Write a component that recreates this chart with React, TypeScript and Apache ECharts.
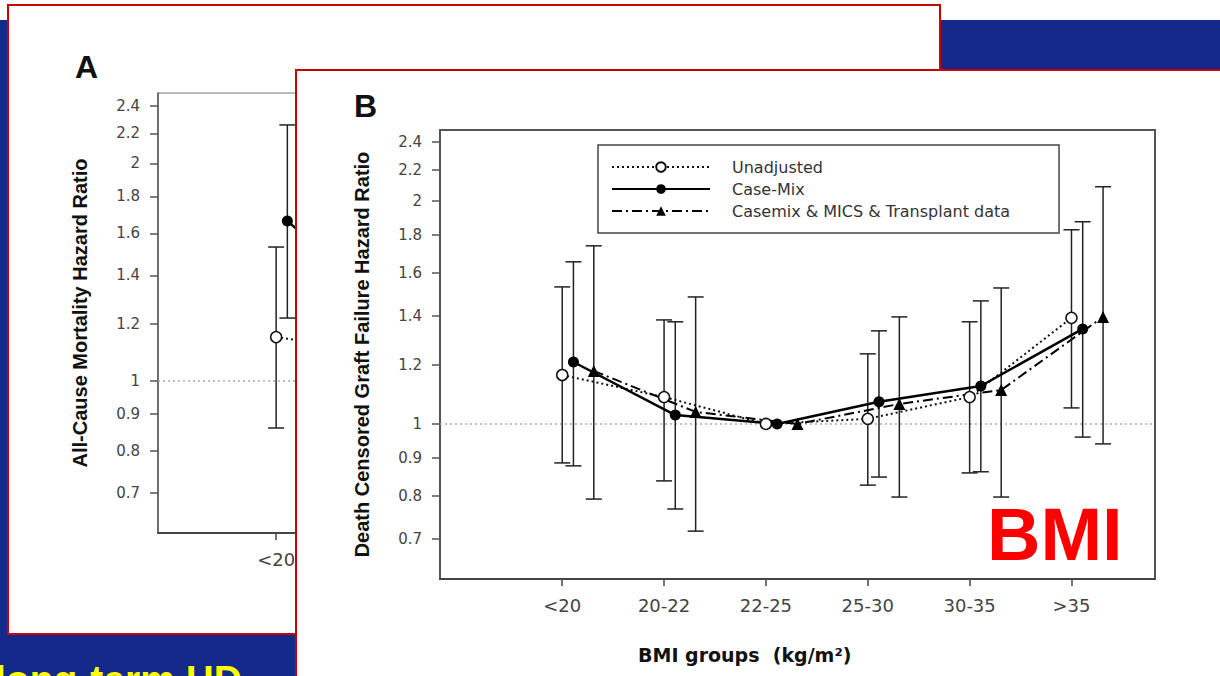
import React, { useEffect, useRef } from 'react';
import * as echarts from 'echarts';

// ---------- data ----------
const categories = ['<20', '20-22', '22-25', '25-30', '30-35', '>35'];
const yTicks = [0.7, 0.8, 0.9, 1, 1.2, 1.4, 1.6, 1.8, 2, 2.2, 2.4];
const seriesNames = ['Unadjusted', 'Case-Mix', 'Casemix & MICS & Transplant data'];

// Panel B: Death censored graft failure hazard ratio (22-25 = reference)
const unadjHR = [1.164, 1.087, 1.0, 1.016, 1.087, 1.39];
const unadjLow = [0.886, 0.838, null, 0.827, 0.859, 1.051];
const unadjHigh = [1.53, 1.381, null, 1.243, 1.373, 1.827];
const caseMixHR = [1.212, 1.028, 1.0, 1.071, 1.125, 1.343];
const caseMixLow = [0.878, 0.768, null, 0.848, 0.862, 0.96];
const caseMixHigh = [1.654, 1.373, null, 1.335, 1.465, 1.873];
const micsHR = [1.179, 1.038, 1.0, 1.064, 1.111, 1.394];
const micsLow = [0.792, 0.717, null, 0.797, 0.797, 0.94];
const micsHigh = [1.738, 1.483, null, 1.394, 1.525, 2.088];

// Panel A: all-cause mortality hazard ratio (only the first group is visible)
const aUnadjHR = [1.15, 1.097];
const aUnadjLow = [0.861];
const aUnadjHigh = [1.532];
const aCaseMixHR = [1.665, 1.25];
const aCaseMixLow = [1.222];
const aCaseMixHigh = [2.26];

// ---------- helpers ----------
const ln = Math.log;
const offsets = [0, 0.11, 0.31];
const tickVals = yTicks.map(ln);
const fmtY = (v: number) => String(Math.round(Math.exp(v) * 10) / 10);
const fmtX = (v: number) => categories[Math.round(v)] ?? '';

const pts = (hr: number[], off: number) => hr.map((v, i) => [i + off, ln(v)]);
const bars = (lo: (number | null)[], hi: (number | null)[], off: number) =>
  lo.map((l, i) => (l == null || hi[i] == null ? null : [i + off, ln(l), ln(hi[i] as number)])).filter(Boolean);

const errorBarRender = (params: any, api: any) => {
  const x = api.value(0);
  const pLo = api.coord([x, api.value(1)]);
  const pHi = api.coord([x, api.value(2)]);
  const half = 8;
  const style = { stroke: '#222', lineWidth: 1.5, fill: null };
  return {
    type: 'group',
    children: [
      { type: 'line', shape: { x1: pLo[0], y1: pLo[1], x2: pHi[0], y2: pHi[1] }, style },
      { type: 'line', shape: { x1: pHi[0] - half, y1: pHi[1], x2: pHi[0] + half, y2: pHi[1] }, style },
      { type: 'line', shape: { x1: pLo[0] - half, y1: pLo[1], x2: pLo[0] + half, y2: pLo[1] }, style },
    ],
  };
};

const tickFont = 'DejaVu Sans';

const makeYAxis = (gridIndex: number, name: string, z: number, min: number, max: number) => ({
  type: 'value',
  gridIndex,
  min,
  max,
  z,
  name,
  nameLocation: 'middle',
  nameGap: 68,
  nameTextStyle: { fontFamily: 'Liberation Sans', fontWeight: 'bold', fontSize: 20, color: '#111' },
  axisLine: { show: true, onZero: false, lineStyle: { color: '#555', width: 1.5 } },
  axisTick: { show: true, length: 8, customValues: tickVals, lineStyle: { color: '#555', width: 1.5 } },
  axisLabel: { customValues: tickVals, formatter: fmtY, margin: 18, fontFamily: tickFont, fontSize: 15, color: '#444' },
  splitLine: { show: false },
});

const makeXAxis = (gridIndex: number, z: number, min: number, max: number) => ({
  type: 'value',
  gridIndex,
  min,
  max,
  z,
  axisLine: { show: true, onZero: false, lineStyle: { color: '#444', width: 2 } },
  axisTick: { show: true, length: 7, customValues: [0, 1, 2, 3, 4, 5], lineStyle: { color: '#444', width: 1.5 } },
  axisLabel: { customValues: [0, 1, 2, 3, 4, 5], formatter: fmtX, margin: 17, fontFamily: tickFont, fontSize: 18, color: '#444' },
  splitLine: { show: false },
});

const refLine = (z: number) => ({
  silent: true,
  symbol: 'none',
  z,
  label: { show: false },
  lineStyle: { color: '#aaa', type: [2, 3], width: 1.5 },
  data: [{ yAxis: 0 }],
});

const unadjStyle = {
  symbol: 'circle',
  symbolSize: 11,
  itemStyle: { color: '#fff', borderColor: '#111', borderWidth: 1.5 },
  lineStyle: { color: '#111', width: 2, type: [2, 3] },
};
const caseMixStyle = {
  symbol: 'circle',
  symbolSize: 11,
  itemStyle: { color: '#000' },
  lineStyle: { color: '#000', width: 2.5, type: 'solid' },
};
const micsStyle = {
  symbol: 'triangle',
  symbolSize: 12,
  itemStyle: { color: '#000' },
  lineStyle: { color: '#000', width: 2, type: [10, 4, 2, 4] },
};

const option: any = {
  animation: false,
  backgroundColor: '#fff',
  grid: [
    { left: 158, top: 93, width: 715, height: 440, show: true, borderColor: '#777', borderWidth: 1, z: 3 },
    { left: 440, top: 130, width: 715, height: 449, show: true, borderColor: '#555', borderWidth: 2, z: 11 },
  ],
  xAxis: [makeXAxis(0, 3, -1.16, 5.86), makeXAxis(1, 11, -1.2, 5.82)],
  yAxis: [
    makeYAxis(0, 'All-Cause Mortality Hazard Ratio', 3, ln(0.6163), ln(2.502)),
    makeYAxis(1, 'Death Censored Graft Failure Hazard Ratio', 11, ln(0.618), ln(2.49)),
  ],
  legend: {
    data: seriesNames,
    orient: 'vertical',
    left: 598,
    top: 145,
    itemWidth: 98,
    itemHeight: 12,
    itemGap: 6,
    padding: [14, 49, 14, 13],
    borderColor: '#444',
    borderWidth: 1.5,
    backgroundColor: '#fff',
    textStyle: { fontFamily: tickFont, fontSize: 16, color: '#333', padding: [0, 0, 0, 17] },
    z: 13,
  },
  series: [
    // ----- Panel B -----
    { type: 'custom', name: 'Unadjusted CI', xAxisIndex: 1, yAxisIndex: 1, renderItem: errorBarRender, data: bars(unadjLow, unadjHigh, offsets[0]), encode: { x: 0, y: [1, 2] }, z: 12, silent: true },
    { type: 'custom', name: 'Case-Mix CI', xAxisIndex: 1, yAxisIndex: 1, renderItem: errorBarRender, data: bars(caseMixLow, caseMixHigh, offsets[1]), encode: { x: 0, y: [1, 2] }, z: 12, silent: true },
    { type: 'custom', name: 'MICS CI', xAxisIndex: 1, yAxisIndex: 1, renderItem: errorBarRender, data: bars(micsLow, micsHigh, offsets[2]), encode: { x: 0, y: [1, 2] }, z: 12, silent: true },
    { type: 'line', name: seriesNames[0], xAxisIndex: 1, yAxisIndex: 1, data: pts(unadjHR, offsets[0]), ...unadjStyle, markLine: refLine(12), z: 12 },
    { type: 'line', name: seriesNames[1], xAxisIndex: 1, yAxisIndex: 1, data: pts(caseMixHR, offsets[1]), ...caseMixStyle, z: 12 },
    { type: 'line', name: seriesNames[2], xAxisIndex: 1, yAxisIndex: 1, data: pts(micsHR, offsets[2]), ...micsStyle, z: 12 },
    // ----- Panel A (mostly hidden behind panel B) -----
    { type: 'custom', name: 'A Unadjusted CI', xAxisIndex: 0, yAxisIndex: 0, renderItem: errorBarRender, data: bars(aUnadjLow, aUnadjHigh, offsets[0]), encode: { x: 0, y: [1, 2] }, z: 4, silent: true },
    { type: 'custom', name: 'A Case-Mix CI', xAxisIndex: 0, yAxisIndex: 0, renderItem: errorBarRender, data: bars(aCaseMixLow, aCaseMixHigh, offsets[1]), encode: { x: 0, y: [1, 2] }, z: 4, silent: true },
    { type: 'line', name: 'A Unadjusted', xAxisIndex: 0, yAxisIndex: 0, data: pts(aUnadjHR, offsets[0]), ...unadjStyle, markLine: refLine(4), z: 4 },
    { type: 'line', name: 'A Case-Mix', xAxisIndex: 0, yAxisIndex: 0, data: pts(aCaseMixHR, offsets[1]), ...caseMixStyle, z: 4 },
  ],
  graphic: [
    { type: 'rect', z: 0, shape: { x: 0, y: 20, width: 1220, height: 656 }, style: { fill: '#15298a' } },
    { type: 'text', z: 1, x: -5, y: 679, style: { text: 'long-term HD', fill: '#ffff00', font: 'bold 39px "Liberation Sans"', textVerticalAlign: 'middle' } },
    { type: 'rect', z: 2, shape: { x: 8, y: 5, width: 932, height: 629 }, style: { fill: '#fff', stroke: '#cc0000', lineWidth: 2 } },
    { type: 'text', z: 3, x: 75, y: 67, style: { text: 'A', fill: '#111', font: 'bold 32px "Liberation Sans"', textVerticalAlign: 'middle' } },
    { type: 'rect', z: 10, shape: { x: 296, y: 70, width: 1000, height: 700 }, style: { fill: '#fff', stroke: '#cc0000', lineWidth: 2 } },
    { type: 'text', z: 14, x: 354, y: 106, style: { text: 'B', fill: '#111', font: 'bold 32px "Liberation Sans"', textVerticalAlign: 'middle' } },
    { type: 'text', z: 14, x: 638, y: 655, style: { text: 'BMI groups  (kg/m²)', fill: '#111', font: 'bold 19px "DejaVu Sans"', textVerticalAlign: 'middle' } },
    { type: 'text', z: 14, x: 987, y: 534, style: { text: 'BMI', fill: '#ff0000', font: 'bold 74px "Liberation Sans"', textVerticalAlign: 'middle' } },
  ],
};

export default function App() {
  const ref = useRef<HTMLDivElement>(null);
  useEffect(() => {
    document.body.style.margin = '0';
    const chart = echarts.init(ref.current!, null, { renderer: 'svg' });
    chart.setOption(option);
    return () => chart.dispose();
  }, []);
  return <div ref={ref} style={{ width: 1220, height: 676 }} />;
}
